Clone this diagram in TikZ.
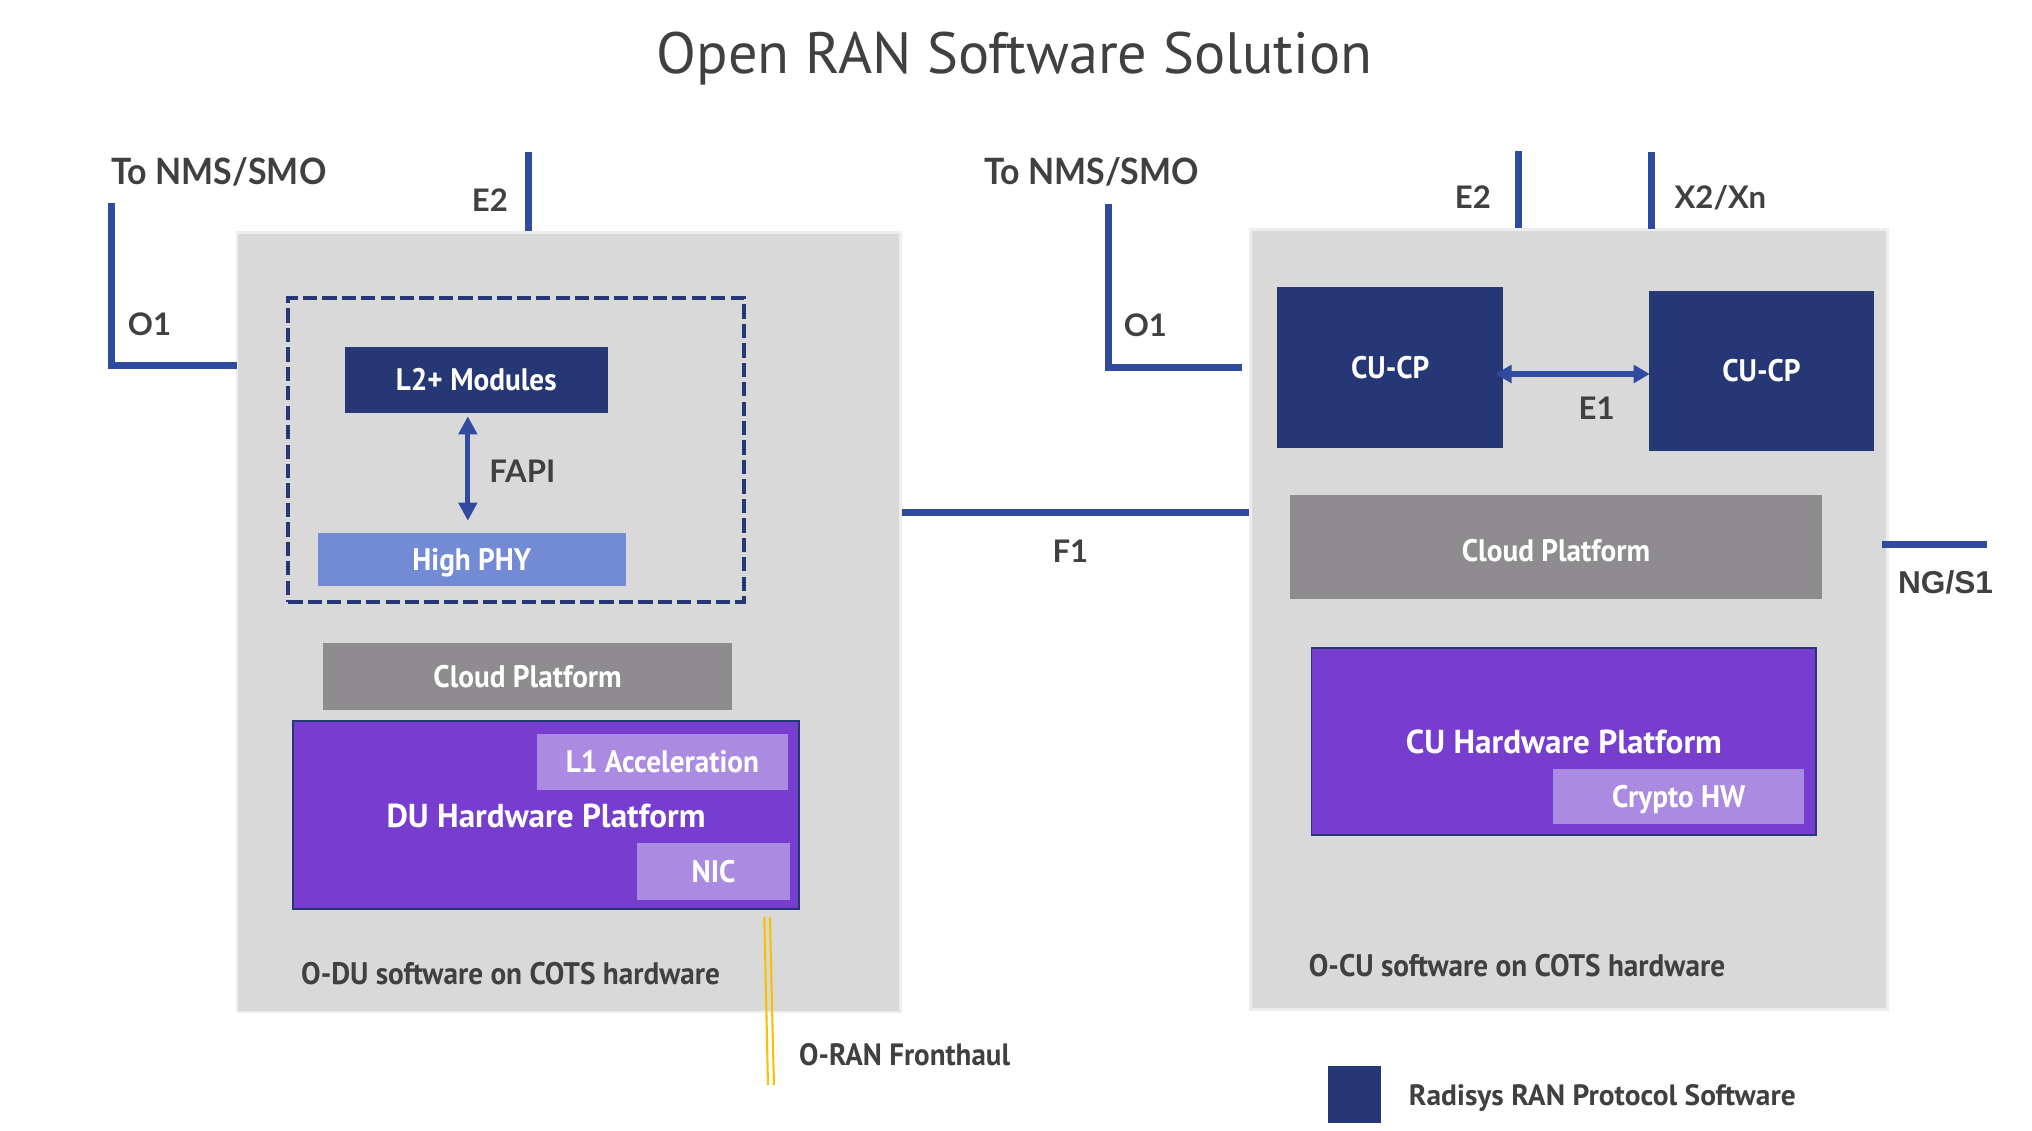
\documentclass[tikz,border=0pt]{standalone}
\usepackage{fontspec}
\setmainfont{PT Sans}
\newfontfamily\ptnarrow{PT Sans}[FakeStretch=0.94]
\newfontfamily\latofont{Lato}
\newfontfamily\latonarrow{Lato}[FakeStretch=0.935]
\newfontfamily\arialfont{Liberation Sans}
\usetikzlibrary{arrows.meta}
\definecolor{lineblue}{HTML}{2F4A9F}
\definecolor{navy}{HTML}{253775}
\definecolor{phyblue}{HTML}{738BD5}
\definecolor{cloudgray}{HTML}{8E8C8F}
\definecolor{hwpurple}{HTML}{763DCF}
\definecolor{lightpurple}{HTML}{AB8AE2}
\definecolor{panelgray}{HTML}{D9D9D9}
\definecolor{panelborder}{HTML}{EEEEEE}
\definecolor{textgray}{HTML}{404040}
\definecolor{fhyellow}{HTML}{F7C000}
\begin{document}
\begin{tikzpicture}[x=1pt,y=-1pt,
  panel/.style={rectangle, fill=panelgray, draw=panelborder, line width=2pt, inner sep=0pt},
  blk/.style={rectangle, inner sep=0pt, text=white, font=\ptnarrow\fontsize{24}{28}\selectfont\bfseries, text height=16.8pt, text depth=0pt},
  hw/.style={blk, fill=hwpurple, draw=navy, line width=1.5pt, font=\fontsize{25.6}{30}\selectfont\bfseries, text height=18.2pt},
  lbl/.style={anchor=base west, inner sep=0pt, text=textgray, font=\latofont\fontsize{24}{28}\selectfont\bfseries},
  biglbl/.style={lbl, font=\latonarrow\fontsize{28}{32}\selectfont\bfseries},
  note/.style={anchor=base west, inner sep=0pt, text=textgray, font=\ptnarrow\fontsize{24}{28}\selectfont\bfseries},
  link/.style={draw=lineblue, line width=5.5pt, line cap=butt, line join=miter},
  dblarrow/.style={draw=lineblue, line width=4pt, {Triangle[width=14pt,length=14pt]}-{Triangle[width=14pt,length=14pt]}},
  fhline/.style={draw=fhyellow, line width=1.6pt}
]
\path[use as bounding box, fill=white] (0,0) rectangle (1568,872.7);

% title
\node[anchor=base, inner sep=0pt, text=textgray, font=\fontsize{45}{54}\selectfont] (title) at (782.8,56.5) {Open RAN Software Solution};

% panels
\node[panel, minimum width=512pt, minimum height=601.4pt] (bigL) at (439,480.1) {};
\node[panel, minimum width=491.4pt, minimum height=601.7pt] (bigR) at (1210.7,477.95) {};

% left panel content
\node[rectangle, draw=navy, dash pattern=on 11pt off 4pt, line width=3pt, minimum width=351.5pt, minimum height=234.2pt] (dash) at (398.25,347.3) {};
\node[blk, fill=navy, minimum width=203pt, minimum height=50.6pt] (l2) at (367.5,293.1) {L2+ Modules};
\node[blk, fill=phyblue, minimum width=237.6pt, minimum height=40.7pt] (phy) at (364.1,431.65) {High PHY};
\node[blk, fill=cloudgray, minimum width=315.5pt, minimum height=51.6pt] (cloudL) at (407.15,521.8) {Cloud Platform};
\node[hw, minimum width=390pt, minimum height=145pt] (duhw) at (421.3,629.1) {DU Hardware Platform};
\node[blk, fill=lightpurple, minimum width=193.6pt, minimum height=43.1pt] (l1) at (511.2,587.75) {L1 Acceleration};
\node[blk, fill=lightpurple, minimum width=118.2pt, minimum height=43.7pt] (nic) at (550.6,672.25) {NIC};
\node[note] (odu) at (232.2,759.6) {O-DU software on COTS hardware};

% right panel content
\node[blk, fill=navy, minimum width=174.5pt, minimum height=124pt] (cucp1) at (1072.75,283.6) {CU-CP};
\node[blk, fill=navy, minimum width=173.5pt, minimum height=123.1pt] (cucp2) at (1359.25,286.25) {CU-CP};
\node[blk, fill=cloudgray, minimum width=409.8pt, minimum height=80.5pt, text height=22.8pt] (cloudR) at (1200.7,422.25) {Cloud Platform};
\node[hw, minimum width=389.5pt, minimum height=144.4pt] (cuhw) at (1206.75,572) {CU Hardware Platform};
\node[blk, fill=lightpurple, minimum width=194pt, minimum height=42.9pt] (crypto) at (1295.4,614.75) {Crypto HW};
\node[note] (ocu) at (1009.8,753.8) {O-CU software on COTS hardware};

% labels
\node[biglbl] (nmsL) at (86,142.4) {To NMS/SMO};
\node[lbl] (e2L) at (364,163.5) {E2};
\node[lbl] (o1L) at (98.5,259.2) {O1};
\node[lbl] (fapi) at (377.5,372.6) {FAPI};
\node[lbl] (f1) at (812,433.9) {F1};
\node[biglbl] (nmsR) at (759.3,142.2) {To NMS/SMO};
\node[lbl] (o1R) at (867,260) {O1};
\node[lbl] (e2R) at (1122.5,160.7) {E2};
\node[lbl] (x2) at (1292,160.7) {X2/Xn};
\node[lbl] (e1) at (1218,323.9) {E1};
\node[lbl, font=\arialfont\fontsize{24.4}{28}\selectfont\bfseries] (ng) at (1464.5,457.8) {NG/S1};
\node[note, font=\ptnarrow\fontsize{23.8}{28}\selectfont\bfseries] (fh) at (616.5,821.8) {O-RAN Fronthaul};

% legend
\node[rectangle, fill=navy, inner sep=0pt, minimum width=40.9pt, minimum height=43.9pt] (legbox) at (1045.05,844.25) {};
\node[note, font=\fontsize{22.7}{28}\selectfont\bfseries] (legtext) at (1087,853.4) {Radisys RAN Protocol Software};

% connector end points
\coordinate (o1Ltop) at (86.3,156.3);
\coordinate (o1Lend) at (183,282.2);
\coordinate (e2Ltop) at (408,117.3);
\coordinate (f1y) at (0,395.5);
\coordinate (o1Rtop) at (855.2,157.7);
\coordinate (o1Rend) at (958.5,283.6);
\coordinate (e2Rtop) at (1171.5,116.8);
\coordinate (x2top) at (1274.3,117.6);
\coordinate (x2bot) at (1274.3,176.6);
\coordinate (ngA) at (1452,419.9);
\coordinate (ngB) at (1533.6,419.9);
\coordinate (fapiA) at (361,321.2);
\coordinate (fapiB) at (361,401.8);
\coordinate (e1A) at (1154,288.6);
\coordinate (e1B) at (1273,288.6);
\coordinate (fh1a) at (589.8,707.3);
\coordinate (fh1b) at (592.6,837.2);
\coordinate (fh2a) at (594.1,707.3);
\coordinate (fh2b) at (597.2,837.2);

% connectors
\draw[link] (o1Ltop) |- (o1Lend);
\draw[link] (e2Ltop) -- (e2Ltop |- bigL.north);
\draw[link] (bigL.east |- f1y) -- (bigR.west |- f1y);
\draw[link] (o1Rtop) |- (o1Rend);
\draw[link] (e2Rtop) -- (e2Rtop |- bigR.north);
\draw[link] (x2top) -- (x2bot);
\draw[link] (ngA) -- (ngB);
\draw[dblarrow] (fapiA) -- (fapiB);
\draw[dblarrow, line width=3.9pt, {Triangle[width=13.6pt,length=12.5pt]}-{Triangle[width=13.6pt,length=12.5pt]}] (e1A) -- (e1B);
\draw[fhline] (fh1a) -- (fh1b);
\draw[fhline] (fh2a) -- (fh2b);
\end{tikzpicture}
\end{document}
